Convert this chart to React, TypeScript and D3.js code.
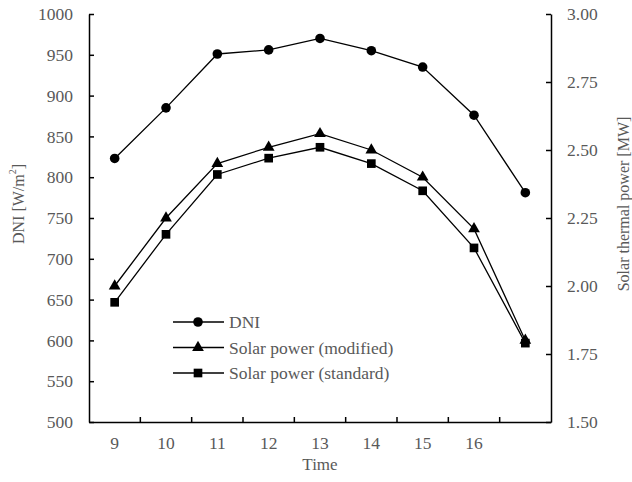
import * as d3 from "d3";
import { useEffect, useRef } from "react";

const times = ["9", "10", "11", "12", "13", "14", "15", "16", "17"];
const timeLabels = ["9", "10", "11", "12", "13", "14", "15", "16", ""];
const dni = [823, 885, 951, 956, 970, 955, 935, 876, 781];
const powerModified = [2.0, 2.25, 2.45, 2.51, 2.56, 2.5, 2.4, 2.21, 1.8];
const powerStandard = [1.94, 2.19, 2.41, 2.47, 2.51, 2.45, 2.35, 2.14, 1.79];
const dniTicks = [500, 550, 600, 650, 700, 750, 800, 850, 900, 950, 1000];
const powerTicks = [1.5, 1.75, 2.0, 2.25, 2.5, 2.75, 3.0];
const legendNames = ["DNI", "Solar power (modified)", "Solar power (standard)"];

const W = 632;
const H = 482;
const margin = { top: 14, bottom: 60, left: 89, right: 81 };
const FONT = "'Liberation Serif', 'Times New Roman', serif";
const GREY = "#595959";

const App = () => {
  const ref = useRef<SVGSVGElement>(null);

  useEffect(() => {
    const svg = d3.select(ref.current);
    svg.selectAll("*").remove();

    const x = d3
      .scaleBand()
      .domain(times)
      .range([margin.left, W - margin.right]);
    const yL = d3
      .scaleLinear()
      .domain([500, 1000])
      .range([H - margin.bottom, margin.top]);
    const yR = d3
      .scaleLinear()
      .domain([1.5, 3.0])
      .range([H - margin.bottom, margin.top]);
    const cx = (i: number) => (x(times[i]) as number) + x.bandwidth() / 2;

    const styleAxis = (g: any) => {
      g.selectAll("path").attr("stroke", "#000").attr("stroke-width", 1.5);
      g.selectAll("line").attr("stroke", "#000").attr("stroke-width", 1.5);
      g.selectAll("text")
        .attr("fill", GREY)
        .style("font-family", FONT)
        .style("font-size", "17.5px");
    };

    // left axis
    svg.append("g")
      .attr("transform", `translate(${margin.left},0)`)
      .call(d3.axisLeft(yL).tickValues(dniTicks).tickSize(-5).tickSizeOuter(0).tickPadding(16).tickFormat(d3.format("d")))
      .call(styleAxis);

    // right axis
    svg.append("g")
      .attr("transform", `translate(${W - margin.right},0)`)
      .call(d3.axisRight(yR).tickValues(powerTicks).tickSize(-5).tickSizeOuter(0).tickPadding(16).tickFormat(d3.format(".2f")))
      .call(styleAxis);

    // bottom axis: labels at band centres, ticks at band edges
    const bottom = svg.append("g")
      .attr("transform", `translate(0,${H - margin.bottom})`)
      .call(d3.axisBottom(x).tickSize(0).tickPadding(15).tickFormat((d, i) => timeLabels[i]))
      .call(styleAxis);
    bottom.selectAll(".edge")
      .data(times.slice(1))
      .enter()
      .append("line")
      .attr("x1", d => x(d) as number)
      .attr("x2", d => x(d) as number)
      .attr("y1", 0)
      .attr("y2", -5)
      .attr("stroke", "#000")
      .attr("stroke-width", 1.5);

    // axis titles
    const left = svg.append("text")
      .attr("transform", `translate(18,204) rotate(-90)`)
      .attr("text-anchor", "middle")
      .attr("dominant-baseline", "central")
      .attr("fill", GREY)
      .style("font-family", FONT)
      .style("font-size", "16px");
    left.append("tspan").text("DNI [W/m");
    left.append("tspan").attr("baseline-shift", "super").style("font-size", "10px").text("2");
    left.append("tspan").text("]");

    svg.append("text")
      .attr("transform", `translate(623,204) rotate(-90)`)
      .attr("text-anchor", "middle")
      .attr("dominant-baseline", "central")
      .attr("fill", GREY)
      .style("font-family", FONT)
      .style("font-size", "16px")
      .text("Solar thermal power [MW]");

    svg.append("text")
      .attr("x", (margin.left + W - margin.right) / 2)
      .attr("y", 470)
      .attr("text-anchor", "middle")
      .attr("fill", GREY)
      .style("font-family", FONT)
      .style("font-size", "17px")
      .text("Time");

    const tri = d3.symbol().type(d3.symbolTriangle).size(60);
    const sq = d3.symbol().type(d3.symbolSquare).size(75);

    const series = [
      { values: dni, y: yL, marker: "circle" },
      { values: powerModified, y: yR, marker: "triangle" },
      { values: powerStandard, y: yR, marker: "square" },
    ];

    const drawMarker = (g: any, kind: string, px: number, py: number) => {
      if (kind === "circle") {
        g.append("circle").attr("cx", px).attr("cy", py).attr("r", 4.8).attr("fill", "#000");
      } else {
        g.append("path")
          .attr("d", kind === "triangle" ? tri() : sq())
          .attr("transform", `translate(${px},${py})`)
          .attr("fill", "#000");
      }
    };

    series.forEach(s => {
      const line = d3.line<number>().x((d, i) => cx(i)).y(d => s.y(d));
      svg.append("path")
        .attr("d", line(s.values))
        .attr("fill", "none")
        .attr("stroke", "#000")
        .attr("stroke-width", 1.3);
      const g = svg.append("g");
      s.values.forEach((v, i) => drawMarker(g, s.marker, cx(i), s.y(v)));
    });

    // legend
    series.forEach((s, i) => {
      const ly = 322 + i * 25.5;
      const g = svg.append("g");
      g.append("line")
        .attr("x1", 173).attr("x2", 224)
        .attr("y1", ly).attr("y2", ly)
        .attr("stroke", "#000").attr("stroke-width", 1.3);
      drawMarker(g, s.marker, 198, ly);
      g.append("text")
        .attr("x", 229)
        .attr("y", ly)
        .attr("dominant-baseline", "central")
        .attr("fill", GREY)
        .style("font-family", FONT)
        .style("font-size", "17.5px")
        .text(legendNames[i]);
    });
  }, []);

  return (
    <svg
      ref={ref}
      width={W}
      height={H}
      style={{ position: "absolute", left: 0, top: 0, background: "#fff" }}
    ></svg>
  );
};

export default App;
